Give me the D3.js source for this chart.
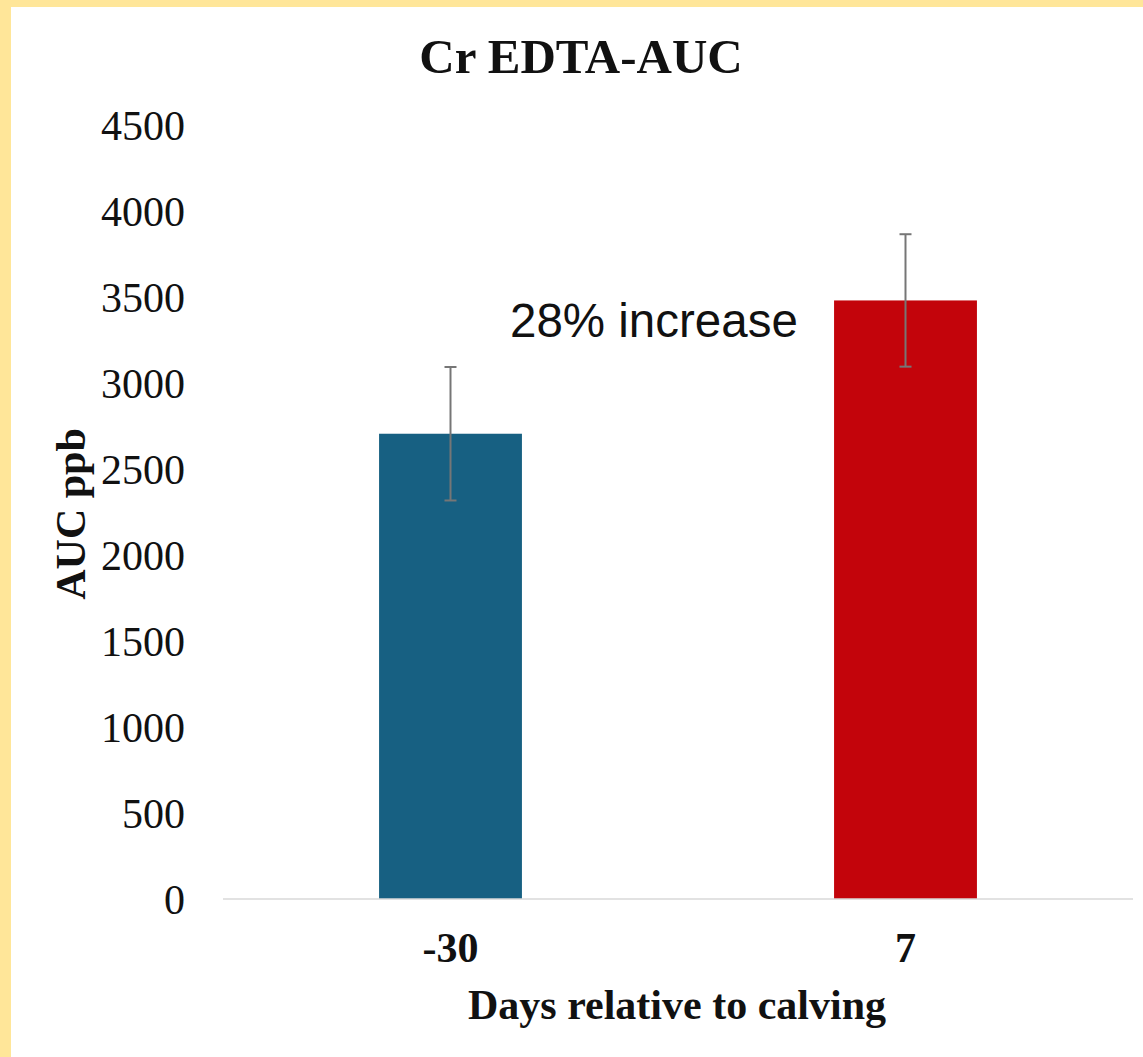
<!DOCTYPE html>
<html>
<head>
<meta charset="utf-8">
<script src="https://cdn.jsdelivr.net/npm/d3@7"></script>
<style>
  html, body { margin: 0; padding: 0; background: #fff; }
  svg { display: block; }
</style>
</head>
<body>
<svg id="chart" width="1143" height="1057"></svg>
<script>
const categories = ["-30", "7"];
const values = [2705, 3480];
const errors = [388, 385];
const barColors = ["#176082", "#c3040b"];
const yTicks = [0, 500, 1000, 1500, 2000, 2500, 3000, 3500, 4000, 4500];
const title = "Cr EDTA-AUC";
const yTitle = "AUC ppb";
const xTitle = "Days relative to calving";
const annotation = "28% increase";

(function () {
const svg = d3.select("#chart");
const W = 1143, H = 1057;

svg.append("rect").attr("width", W).attr("height", H).attr("fill", "#ffe699");
svg.append("rect").attr("x", 11).attr("y", 7).attr("width", W - 11).attr("height", H - 7).attr("fill", "#fff");

const pLeft = 223, pRight = 1133, pTop = 125, pBottom = 899;

const x = d3.scaleBand().domain(categories).range([pLeft, pRight])
  .paddingInner(0.686).paddingOuter(0.343);
const y = d3.scaleLinear().domain([0, 4500]).range([pBottom, pTop]);

const serif = "'Liberation Serif', 'Times New Roman', serif";
const sans = "'Liberation Sans', Arial, sans-serif";

// title
svg.append("text").attr("x", 581).attr("y", 73)
  .attr("text-anchor", "middle").attr("font-family", serif)
  .attr("font-weight", "bold").attr("font-size", 49).attr("fill", "#111")
  .text(title);

// y axis (labels only)
const yAxis = d3.axisLeft(y).tickValues(yTicks).tickSize(0).tickPadding(0).tickFormat(d3.format("d"));
const gy = svg.append("g").attr("transform", `translate(${185},0)`).call(yAxis);
gy.select(".domain").remove();
gy.selectAll("text").attr("font-family", serif).attr("font-size", 42)
  .attr("fill", "#111").attr("dy", null)
  .attr("y", 14);

// bars
svg.selectAll("rect.bar").data(categories).enter().append("rect")
  .attr("class", "bar")
  .attr("x", d => x(d)).attr("width", x.bandwidth())
  .attr("y", (d, i) => y(values[i]))
  .attr("height", (d, i) => y(0) - y(values[i]))
  .attr("fill", (d, i) => barColors[i]);

// x axis
const xAxis = d3.axisBottom(x).tickSize(0).tickPadding(0);
const gx = svg.append("g").attr("transform", `translate(0,${pBottom})`).call(xAxis);
gx.select(".domain").attr("stroke", "#d9d9d9").attr("stroke-width", 1.5)
  .attr("d", `M${pLeft},0H${pRight}`);
gx.selectAll("text").attr("font-family", serif).attr("font-weight", "bold")
  .attr("font-size", 42).attr("fill", "#111").attr("dy", null).attr("y", 63);

// error bars
const eg = svg.append("g").attr("stroke", "#767676").attr("stroke-width", 2).attr("fill", "none");
categories.forEach((c, i) => {
  const cx = x(c) + x.bandwidth() / 2;
  const y1 = y(values[i] + errors[i]), y0 = y(values[i] - errors[i]);
  eg.append("line").attr("x1", cx).attr("x2", cx).attr("y1", y1).attr("y2", y0);
  eg.append("line").attr("x1", cx - 6).attr("x2", cx + 6).attr("y1", y1).attr("y2", y1);
  eg.append("line").attr("x1", cx - 6).attr("x2", cx + 6).attr("y1", y0).attr("y2", y0);
});

// annotation
svg.append("text").attr("x", 510).attr("y", 337)
  .attr("font-family", sans).attr("font-size", 47.5).attr("fill", "#111")
  .text(annotation);

// y title
svg.append("text").attr("transform", "translate(85,514) rotate(-90)")
  .attr("text-anchor", "middle").attr("font-family", serif)
  .attr("font-weight", "bold").attr("font-size", 42).attr("fill", "#111")
  .text(yTitle);

// x title
svg.append("text").attr("x", 677).attr("y", 1019)
  .attr("text-anchor", "middle").attr("font-family", serif)
  .attr("font-weight", "bold").attr("font-size", 42).attr("fill", "#111")
  .text(xTitle);
})();
</script>
</body>
</html>
